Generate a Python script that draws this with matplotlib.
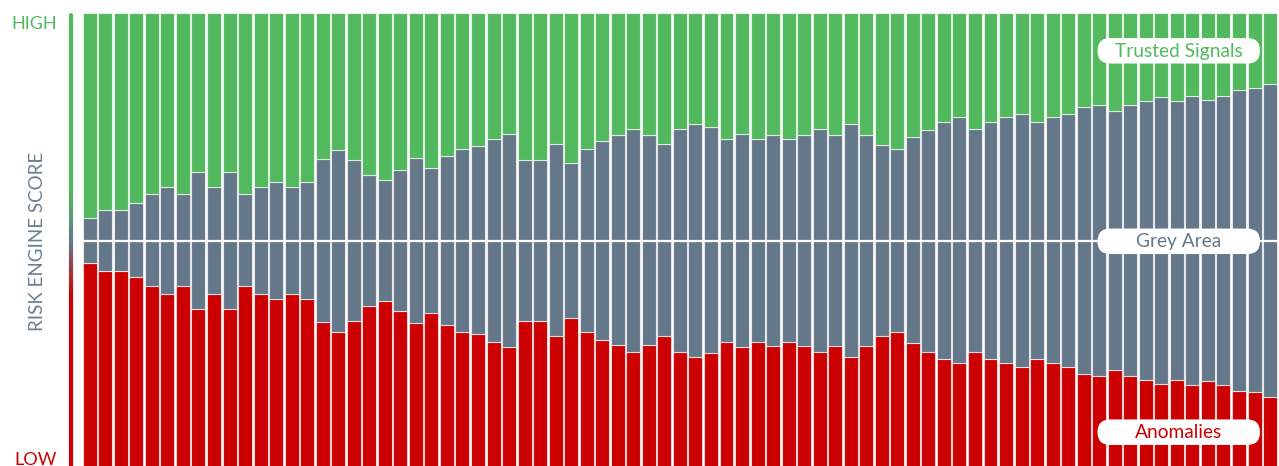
import numpy as np
import matplotlib
matplotlib.use("Agg")
import matplotlib.pyplot as plt
from matplotlib.collections import LineCollection
from matplotlib.colors import LinearSegmentedColormap
from matplotlib.patches import FancyBboxPatch

# ---------------- data (percent of each bar) ----------------
grey_area = [10.0, 13.5, 13.5, 16.3, 20.3, 23.5, 20.3, 30.0, 23.5, 30.0,
             20.3, 23.5, 25.6, 23.5, 25.6, 35.9, 39.9, 35.2, 28.8, 26.4,
             30.8, 36.4, 32.0, 37.2, 40.1, 41.3, 44.5, 46.8, 35.2, 35.6,
             42.1, 34.0, 40.1, 43.6, 46.1, 48.8, 46.1, 42.1, 48.8, 51.2,
             49.7, 44.7, 46.8, 44.7, 46.4, 44.7, 46.4, 48.8, 46.4, 51.1,
             46.4, 42.0, 40.1, 45.3, 48.7, 52.0, 54.1, 48.8, 52.0, 54.1,
             55.5, 52.0, 54.1, 55.5, 58.8, 59.6, 56.8, 59.6, 61.3, 63.2,
             61.3, 63.6, 61.8, 63.6, 66.2, 66.9, 68.8, 70.5]
anomalies = [45.0, 43.2, 43.2, 41.9, 39.9, 38.2, 39.9, 35.0, 38.2, 35.0,
             39.9, 38.2, 37.2, 38.2, 37.2, 32.0, 30.0, 32.4, 35.6, 36.8,
             34.6, 31.8, 34.0, 31.4, 30.0, 29.4, 27.8, 26.6, 32.4, 32.2,
             29.0, 33.0, 30.0, 28.2, 27.0, 25.6, 27.0, 29.0, 25.6, 24.4,
             25.2, 27.6, 26.6, 27.6, 26.8, 27.6, 26.8, 25.6, 26.8, 24.4,
             26.8, 29.0, 30.0, 27.4, 25.6, 24.0, 23.0, 25.6, 24.0, 23.0,
             22.2, 24.0, 23.0, 22.2, 20.6, 20.2, 21.6, 20.2, 19.4, 18.4,
             19.4, 18.2, 19.1, 18.2, 16.9, 16.6, 15.6, 14.8]
trusted = [45.0, 43.3, 43.3, 41.8, 39.8, 38.3, 39.8, 35.0, 38.3, 35.0,
           39.8, 38.3, 37.2, 38.3, 37.2, 32.1, 30.1, 32.4, 35.6, 36.8,
           34.6, 31.8, 34.0, 31.4, 29.9, 29.3, 27.7, 26.6, 32.4, 32.2,
           28.9, 33.0, 29.9, 28.2, 26.9, 25.6, 26.9, 28.9, 25.6, 24.4,
           25.1, 27.7, 26.6, 27.7, 26.8, 27.7, 26.8, 25.6, 26.8, 24.5,
           26.8, 29.0, 29.9, 27.3, 25.7, 24.0, 22.9, 25.6, 24.0, 22.9,
           22.3, 24.0, 22.9, 22.3, 20.6, 20.2, 21.6, 20.2, 19.3, 18.4,
           19.3, 18.2, 19.1, 18.2, 16.9, 16.5, 15.6, 14.7]
series_labels = ["Trusted Signals", "Grey Area", "Anomalies"]
axis_title = "RISK ENGINE SCORE"
high_label, low_label = "HIGH", "LOW"

# ---------------- style ----------------
GREEN = "#52b95f"
GREY = "#657889"
RED = "#cc0000"
TXT_GREY = "#6b7e90"
FONT = ["Lato", "DejaVu Sans"]
plt.rcParams["font.family"] = FONT

W, H = 1279, 466
fig = plt.figure(figsize=(W / 100, H / 100), dpi=100)

pitch = 15.53
ax = fig.add_axes([82 / W, (H - 468) / H, (W - 82) / W, 455 / H])
n = len(grey_area)
x = np.arange(n)
an = np.array(anomalies)
gr = np.array(grey_area)
tr = np.array(trusted)
edge = (1, 1, 1, 0.65)
bw = 0.9
ax.bar(x, an, width=bw, color=RED, edgecolor=edge, linewidth=0.8)
ax.bar(x, gr, bottom=an, width=bw, color=GREY, edgecolor=edge, linewidth=0.8)
ax.bar(x, tr, bottom=an + gr, width=bw, color=GREEN, edgecolor=edge, linewidth=0.8)
ax.axhline(50, color="white", lw=1.6, zorder=5)
ax.set_xlim(-0.5, -0.5 + (W - 82) / pitch)
ax.set_ylim(0, 100)
ax.axis("off")

# ---------------- overlay (pixel coordinates) ----------------
ov = fig.add_axes([0, 0, 1, 1], facecolor="none")
ov.set_xlim(0, W)
ov.set_ylim(0, H)
ov.axis("off")

def py(v):
    return H - v

# gradient axis line
top, bot = 13, 466
cmap = LinearSegmentedColormap.from_list(
    "g", [(0.0, GREEN), ((190 - top) / (bot - top), GREEN),
          ((241 - top) / (bot - top), GREY), ((297 - top) / (bot - top), RED), (1.0, RED)])
ys = np.linspace(top + 3, bot, 400)
segs = [[(70.5, py(ys[i])), (70.5, py(ys[i + 1]))] for i in range(len(ys) - 1)]
cols = [cmap((ys[i] - top) / (bot - top)) for i in range(len(ys) - 1)]
lc = LineCollection(segs, colors=cols, linewidths=3.0, capstyle="butt")
ov.add_collection(lc)
ov.plot([70.5, 70.5], [py(14.5), py(20)], color=GREEN, lw=3.0, solid_capstyle="round")

ov.text(57, py(29.3), high_label, color=GREEN, fontsize=13, ha="right", va="baseline")
ov.text(57, py(465.3), low_label, color=RED, fontsize=13, ha="right", va="baseline")
ov.text(37.5, py(241), axis_title, color=TXT_GREY, fontsize=13.5, rotation=90,
        ha="center", va="center")

# labels in rounded white boxes
box_x0, box_x1 = 1097.5, 1260
box_h = 25.5
centers = [50.8, 241.3, 432.2]
tcols = [GREEN, GREY, RED]
for lab, cy, c in zip(series_labels, centers, tcols):
    r = box_h / 2
    p = FancyBboxPatch((box_x0 + r, py(cy)), (box_x1 - box_x0) - 2 * r, 0.0001,
                       boxstyle=f"round,pad={r},rounding_size={r}",
                       facecolor="white", edgecolor="none", zorder=6)
    ov.add_patch(p)
    ov.text((box_x0 + box_x1) / 2, py(cy) - 0.5, lab, color=c, fontsize=13.8,
            ha="center", va="center", zorder=7)

fig.savefig("out.png", dpi=100)
